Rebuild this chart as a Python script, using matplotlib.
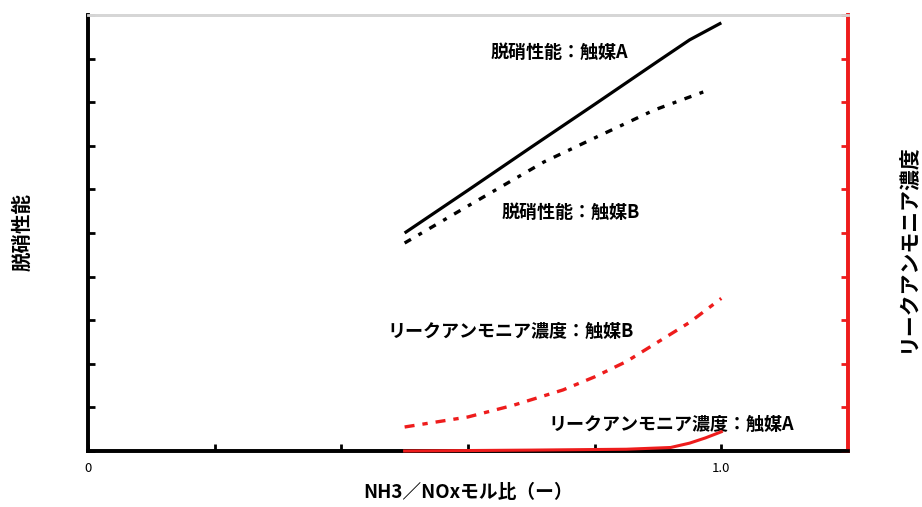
import numpy as np
import matplotlib.pyplot as plt

plt.rcParams['font.family'] = ['Noto Sans CJK JP', 'DejaVu Sans']

# NH3/NOx molar ratio
ratio = [0.5, 0.6, 0.7, 0.8, 0.9, 0.95, 1.0]

# denitration performance (relative units)
denox_a = [5.0, 5.98, 6.97, 7.95, 8.94, 9.43, 9.82]
ratio_b = [0.5, 0.6, 0.72, 0.8, 0.894, 0.98]
denox_b = [4.77, 5.62, 6.63, 7.18, 7.82, 8.28]

# leaked ammonia concentration (relative units)
ratio_leak_b = [0.5, 0.6, 0.672, 0.75, 0.8, 0.85, 0.9, 0.95, 1.0]
leak_b = [0.55, 0.78, 1.05, 1.4, 1.7, 2.05, 2.5, 2.95, 3.5]
ratio_leak_a = [0.5, 0.7, 0.85, 0.92, 0.95, 0.975, 1.0]
leak_a = [0.0, 0.02, 0.04, 0.08, 0.18, 0.3, 0.44]

x_ticks = [0, 0.2, 0.4, 0.6, 0.8, 1.0]
x_tick_labels = ['0', '', '', '', '', '1.0']

red = '#ee1c1c'

fig = plt.figure(figsize=(9.22, 5.07), dpi=100)
ax = fig.add_axes([0.0954, 0.1105, 0.8243, 0.8599])
ax2 = ax.twinx()

ax.plot(ratio, denox_a, color='black', lw=2.3, solid_capstyle='butt')
ax.plot(ratio_b, denox_b, color='black', lw=2.4, linestyle=(0, (2.2, 2.6, 1.2, 2.6)))
ax2.plot(ratio_leak_b, leak_b, color=red, lw=2.4, linestyle=(0, (3.0, 2.4, 1.6, 2.4)))
ax2.plot(ratio_leak_a, leak_a, color=red, lw=2.2, zorder=5, clip_on=False)

ax.set_xlim(0, 1.2)
ax.set_ylim(0, 10)
ax2.set_ylim(0, 10)

ax.set_xticks(x_ticks)
ax.set_xticklabels(x_tick_labels, fontsize=9.5)
ax.set_yticks(np.arange(0, 11, 1))
ax.set_yticklabels([])
ax2.set_yticks(np.arange(0, 11, 1))
ax2.set_yticklabels([])

ax.tick_params(axis='x', direction='in', length=5, width=2, pad=8, color='black')
ax.tick_params(axis='y', direction='in', length=5, width=2, color='black')
ax2.tick_params(axis='y', direction='in', length=5, width=2, color=red)

for a in (ax, ax2):
    a.spines['left'].set_linewidth(2.6)
    a.spines['left'].set_color('black')
    a.spines['bottom'].set_linewidth(2.6)
    a.spines['bottom'].set_color('black')
    a.spines['top'].set_linewidth(2.0)
    a.spines['top'].set_color('#d6d6d6')
    a.spines['right'].set_linewidth(2.6)
    a.spines['right'].set_color(red)

# axis titles
fig.text(468 / 922, 1 - 493 / 507, 'NH3／NOxモル比（ー）', fontsize=13.5,
         fontweight='bold', ha='center', va='center')
fig.text(23 / 922, 1 - 232 / 507, '脱硝性能', fontsize=14, fontweight='bold',
         rotation=90, ha='center', va='center')
fig.text(908 / 922, 1 - 248 / 507, 'リークアンモニア濃度', fontsize=15,
         fontweight='bold', rotation=90, ha='center', va='center')

lbl = dict(fontsize=13, ha='center', va='center', fontweight='bold')
ax.text(0.745, 9.15, '脱硝性能：触媒A', **lbl)
ax.text(0.763, 5.48, '脱硝性能：触媒B', **lbl)
ax.text(0.668, 2.75, 'リークアンモニア濃度：触媒B', **lbl)
ax.text(0.921, 0.6, 'リークアンモニア濃度：触媒A', **lbl)

fig.savefig('out.png', dpi=100)
